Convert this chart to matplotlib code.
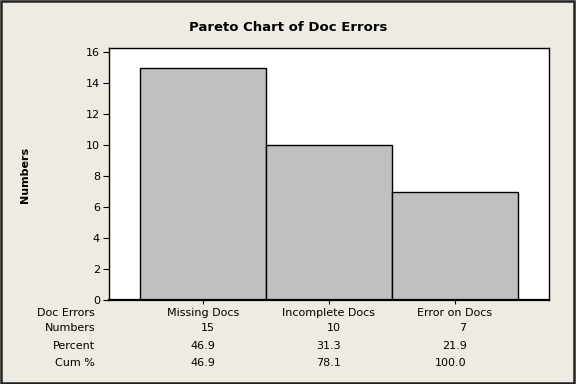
import matplotlib
matplotlib.use("Agg")
import matplotlib.pyplot as plt
from matplotlib.patches import Rectangle

categories = ["Missing Docs", "Incomplete Docs", "Error on Docs"]
counts = [15, 10, 7]
percents = ["46.9", "31.3", "21.9"]
cum_percents = ["46.9", "78.1", "100.0"]
yticks = [0, 2, 4, 6, 8, 10, 12, 14, 16]
row_labels = ["Doc Errors", "Numbers", "Percent", "Cum %"]

bg = "#EEEBE2"
plt.rcParams["font.family"] = ["DejaVu Sans"]

fig = plt.figure(figsize=(5.76, 3.84), dpi=100, facecolor=bg)
fig.patches.append(Rectangle((0.002, 0.003), 0.994, 0.994, transform=fig.transFigure,
                             fill=False, edgecolor="#222222", linewidth=1.8))

ax = fig.add_axes([109/576, 1-300/384, (548.5-109)/576, (300-47.7)/384])
ax.set_facecolor("white")
x = list(range(len(categories)))
ax.bar(x, counts, width=1.0, color="#C0C0C0", edgecolor="black", linewidth=1.0)
ax.set_xlim(-0.746, 2.746)
ax.set_ylim(0, 16.28)
ax.set_yticks(yticks)
ax.tick_params(axis="y", labelsize=8, length=4.5, direction="out", pad=2)
ax.set_xticks(x)
ax.set_xticklabels([])
ax.tick_params(axis="x", length=3, direction="out")
for s in ax.spines.values():
    s.set_linewidth(1.0)
ax.spines["bottom"].set_linewidth(1.6)

fig.text(287.7/576, 1-27.7/384, "Pareto Chart of Doc Errors", ha="center", va="center",
         fontsize=9.5, fontweight="bold")
fig.text(24.6/576, 1-175/384, "Numbers", ha="center", va="center", rotation=90,
         fontsize=8, fontweight="bold")

row_y = [312.7, 327.7, 345.7, 362.7]
for lab, yy in zip(row_labels, row_y):
    fig.text(95/576, 1-yy/384, lab, ha="right", va="center", fontsize=8)

inv = fig.transFigure.inverted()
for i, cat in enumerate(categories):
    xd = inv.transform(ax.transData.transform((i, 0)))[0]
    fig.text(xd, 1-row_y[0]/384, cat, ha="center", va="center", fontsize=8)
    xr = xd + 12/576
    fig.text(xr, 1-row_y[1]/384, str(counts[i]), ha="right", va="center", fontsize=8)
    fig.text(xr, 1-row_y[2]/384, percents[i], ha="right", va="center", fontsize=8)
    fig.text(xr, 1-row_y[3]/384, cum_percents[i], ha="right", va="center", fontsize=8)

fig.savefig("out.png", dpi=100, facecolor=bg)
